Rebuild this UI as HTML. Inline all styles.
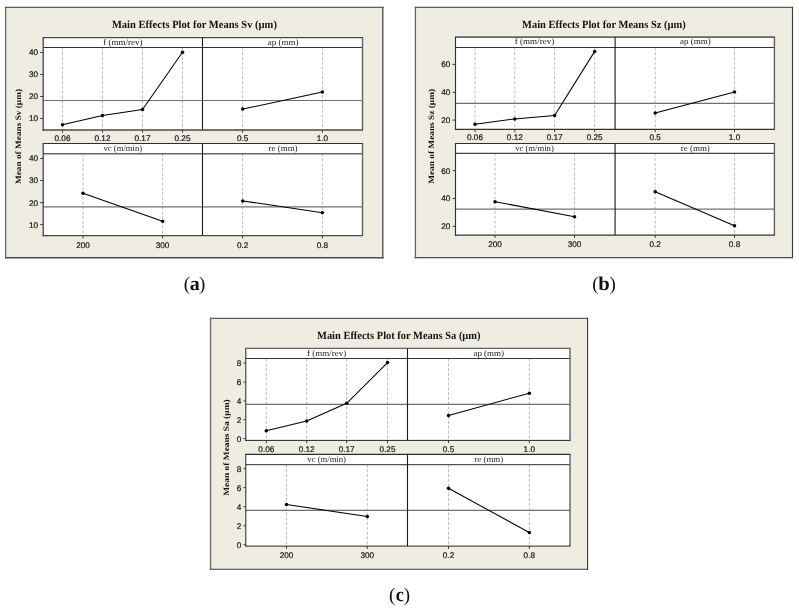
<!DOCTYPE html>
<html><head><meta charset="utf-8"><title>Main Effects Plots</title>
<style>
html,body{margin:0;padding:0;background:#fff;overflow:hidden}
svg{display:block}
text{text-rendering:geometricPrecision}
.tk{font-family:"Liberation Sans",sans-serif;font-size:8.2px;fill:#141414;stroke:#141414;stroke-width:0.2px}
.hd{font-family:"Liberation Serif",serif;font-size:8.7px;fill:#222}
.tt{font-family:"Liberation Serif",serif;font-weight:bold;font-size:11px;fill:#111}
.yl{font-family:"Liberation Serif",serif;font-weight:bold;font-size:8.2px;fill:#111}
.cp{font-family:"Liberation Serif",serif;fill:#111}
.pr{font-size:19px}
.cb{font-size:19.6px;font-weight:bold}
</style></head>
<body>
<svg width="799" height="609" viewBox="0 0 799 609">
<rect width="799" height="609" fill="#fff"/>
<rect x="5.6" y="7.45" width="377.2" height="250.25" fill="#efece2"/>
<line x1="5.6" y1="6.8" x2="5.6" y2="258.4" stroke="#666" stroke-width="1.3"/>
<line x1="4.95" y1="7.45" x2="383.45" y2="7.45" stroke="#5a5a5a" stroke-width="1.3"/>
<line x1="382.8" y1="6.8" x2="382.8" y2="258.4" stroke="#484848" stroke-width="1.3"/>
<line x1="4.95" y1="257.7" x2="383.45" y2="257.7" stroke="#4c4c4c" stroke-width="1.4"/>
<rect x="43.2" y="37.7" width="319.3" height="92.3" fill="#fff"/>
<line x1="62.5" y1="47.5" x2="62.5" y2="130" stroke="#bdbdbd" stroke-dasharray="3 1.8"/>
<line x1="62.5" y1="130" x2="62.5" y2="132.8" stroke="#3c3c3c"/>
<text class="tk" x="62.5" y="140.5" text-anchor="middle">0.06</text>
<line x1="102.5" y1="47.5" x2="102.5" y2="130" stroke="#bdbdbd" stroke-dasharray="3 1.8"/>
<line x1="102.5" y1="130" x2="102.5" y2="132.8" stroke="#3c3c3c"/>
<text class="tk" x="102.5" y="140.5" text-anchor="middle">0.12</text>
<line x1="142.5" y1="47.5" x2="142.5" y2="130" stroke="#bdbdbd" stroke-dasharray="3 1.8"/>
<line x1="142.5" y1="130" x2="142.5" y2="132.8" stroke="#3c3c3c"/>
<text class="tk" x="142.5" y="140.5" text-anchor="middle">0.17</text>
<line x1="182.5" y1="47.5" x2="182.5" y2="130" stroke="#bdbdbd" stroke-dasharray="3 1.8"/>
<line x1="182.5" y1="130" x2="182.5" y2="132.8" stroke="#3c3c3c"/>
<text class="tk" x="182.5" y="140.5" text-anchor="middle">0.25</text>
<text class="hd" x="122.85" y="44.9" text-anchor="middle" textLength="39.4" lengthAdjust="spacingAndGlyphs">f (mm/rev)</text>
<line x1="242.6" y1="47.5" x2="242.6" y2="130" stroke="#bdbdbd" stroke-dasharray="3 1.8"/>
<line x1="242.6" y1="130" x2="242.6" y2="132.8" stroke="#3c3c3c"/>
<text class="tk" x="242.6" y="140.5" text-anchor="middle">0.5</text>
<line x1="322.4" y1="47.5" x2="322.4" y2="130" stroke="#bdbdbd" stroke-dasharray="3 1.8"/>
<line x1="322.4" y1="130" x2="322.4" y2="132.8" stroke="#3c3c3c"/>
<text class="tk" x="322.4" y="140.5" text-anchor="middle">1.0</text>
<text class="hd" x="283.1" y="44.9" text-anchor="middle" textLength="30.7" lengthAdjust="spacingAndGlyphs">ap (mm)</text>
<line x1="43.2" y1="100.5" x2="362.5" y2="100.5" stroke="#707070" stroke-width="1.2"/>
<line x1="43.2" y1="47.5" x2="362.5" y2="47.5" stroke="#333" stroke-width="1.1"/>
<line x1="42.6" y1="37.7" x2="363.2" y2="37.7" stroke="#4a4a4a" stroke-width="1.25"/>
<line x1="362.5" y1="37.7" x2="362.5" y2="130" stroke="#626262" stroke-width="1.4"/>
<line x1="202.5" y1="37.7" x2="202.5" y2="130" stroke="#1a1a1a" stroke-width="1.1"/>
<line x1="43.2" y1="37.7" x2="43.2" y2="130.68" stroke="#4a4a4a" stroke-width="1.35"/>
<line x1="42.53" y1="130" x2="363" y2="130" stroke="#4a4a4a" stroke-width="1.35"/>
<line x1="40.2" y1="52.5" x2="43.2" y2="52.5" stroke="#3c3c3c"/>
<text class="tk" x="38.1" y="55.4" text-anchor="end">40</text>
<line x1="40.2" y1="74.5" x2="43.2" y2="74.5" stroke="#3c3c3c"/>
<text class="tk" x="38.1" y="77.4" text-anchor="end">30</text>
<line x1="40.2" y1="96.5" x2="43.2" y2="96.5" stroke="#3c3c3c"/>
<text class="tk" x="38.1" y="99.4" text-anchor="end">20</text>
<line x1="40.2" y1="118.5" x2="43.2" y2="118.5" stroke="#3c3c3c"/>
<text class="tk" x="38.1" y="121.4" text-anchor="end">10</text>
<rect x="43.2" y="143.5" width="319.3" height="92.1" fill="#fff"/>
<line x1="83" y1="153.7" x2="83" y2="235.6" stroke="#bdbdbd" stroke-dasharray="3 1.8"/>
<line x1="83" y1="235.6" x2="83" y2="238.4" stroke="#3c3c3c"/>
<text class="tk" x="83" y="247.7" text-anchor="middle">200</text>
<line x1="162.6" y1="153.7" x2="162.6" y2="235.6" stroke="#bdbdbd" stroke-dasharray="3 1.8"/>
<line x1="162.6" y1="235.6" x2="162.6" y2="238.4" stroke="#3c3c3c"/>
<text class="tk" x="162.6" y="247.7" text-anchor="middle">300</text>
<text class="hd" x="122.85" y="150.7" text-anchor="middle" textLength="38.6" lengthAdjust="spacingAndGlyphs">vc (m/min)</text>
<line x1="242.6" y1="153.7" x2="242.6" y2="235.6" stroke="#bdbdbd" stroke-dasharray="3 1.8"/>
<line x1="242.6" y1="235.6" x2="242.6" y2="238.4" stroke="#3c3c3c"/>
<text class="tk" x="242.6" y="247.7" text-anchor="middle">0.2</text>
<line x1="322.4" y1="153.7" x2="322.4" y2="235.6" stroke="#bdbdbd" stroke-dasharray="3 1.8"/>
<line x1="322.4" y1="235.6" x2="322.4" y2="238.4" stroke="#3c3c3c"/>
<text class="tk" x="322.4" y="247.7" text-anchor="middle">0.8</text>
<text class="hd" x="283.1" y="150.7" text-anchor="middle" textLength="29" lengthAdjust="spacingAndGlyphs">re (mm)</text>
<line x1="43.2" y1="206.8" x2="362.5" y2="206.8" stroke="#707070" stroke-width="1.3"/>
<line x1="43.2" y1="153.7" x2="362.5" y2="153.7" stroke="#666" stroke-width="1.5"/>
<line x1="42.6" y1="143.5" x2="363.2" y2="143.5" stroke="#2e2e2e" stroke-width="1.1"/>
<line x1="362.5" y1="143.5" x2="362.5" y2="235.6" stroke="#626262" stroke-width="1.4"/>
<line x1="202.5" y1="143.5" x2="202.5" y2="235.6" stroke="#1a1a1a" stroke-width="1.1"/>
<line x1="43.2" y1="143.5" x2="43.2" y2="236.28" stroke="#4a4a4a" stroke-width="1.35"/>
<line x1="42.53" y1="235.6" x2="363" y2="235.6" stroke="#4a4a4a" stroke-width="1.35"/>
<line x1="40.2" y1="158.5" x2="43.2" y2="158.5" stroke="#3c3c3c"/>
<text class="tk" x="38.1" y="161.4" text-anchor="end">40</text>
<line x1="40.2" y1="180.5" x2="43.2" y2="180.5" stroke="#3c3c3c"/>
<text class="tk" x="38.1" y="183.4" text-anchor="end">30</text>
<line x1="40.2" y1="202.6" x2="43.2" y2="202.6" stroke="#3c3c3c"/>
<text class="tk" x="38.1" y="205.5" text-anchor="end">20</text>
<line x1="40.2" y1="224.6" x2="43.2" y2="224.6" stroke="#3c3c3c"/>
<text class="tk" x="38.1" y="227.5" text-anchor="end">10</text>
<polyline points="62.5,124.8 102.5,115.5 142.5,109.5 182.5,52.2" fill="none" stroke="#000" stroke-width="1.05" stroke-linejoin="round"/>
<circle cx="62.5" cy="124.8" r="1.75" fill="#000"/>
<circle cx="102.5" cy="115.5" r="1.75" fill="#000"/>
<circle cx="142.5" cy="109.5" r="1.75" fill="#000"/>
<circle cx="182.5" cy="52.2" r="1.75" fill="#000"/>
<polyline points="242.7,109.1 322.4,92.1" fill="none" stroke="#000" stroke-width="1.05" stroke-linejoin="round"/>
<circle cx="242.7" cy="109.1" r="1.75" fill="#000"/>
<circle cx="322.4" cy="92.1" r="1.75" fill="#000"/>
<polyline points="83,193.2 162.6,221.3" fill="none" stroke="#000" stroke-width="1.05" stroke-linejoin="round"/>
<circle cx="83" cy="193.2" r="1.75" fill="#000"/>
<circle cx="162.6" cy="221.3" r="1.75" fill="#000"/>
<polyline points="242.7,200.9 322.4,212.7" fill="none" stroke="#000" stroke-width="1.05" stroke-linejoin="round"/>
<circle cx="242.7" cy="200.9" r="1.75" fill="#000"/>
<circle cx="322.4" cy="212.7" r="1.75" fill="#000"/>
<text class="tt" x="194.4" y="28" text-anchor="middle" textLength="165" lengthAdjust="spacingAndGlyphs">Main Effects Plot for Means Sv (µm)</text>
<text class="yl" transform="translate(21.2,136.5) rotate(-90)" text-anchor="middle" textLength="95" lengthAdjust="spacingAndGlyphs">Mean of Means Sv (µm)</text>
<text class="cp pr" x="183.8" y="290.2">(</text>
<text class="cp cb" x="194.75" y="289.6" text-anchor="middle" textLength="10.0" lengthAdjust="spacingAndGlyphs">a</text>
<text class="cp pr" x="205.4" y="290.2" text-anchor="end">)</text>
<rect x="415.4" y="7.4" width="377.1" height="250.2" fill="#efece2"/>
<line x1="415.4" y1="6.75" x2="415.4" y2="258.28" stroke="#646464" stroke-width="1.3"/>
<line x1="414.75" y1="7.4" x2="793.05" y2="7.4" stroke="#5c5c5c" stroke-width="1.3"/>
<line x1="792.5" y1="6.75" x2="792.5" y2="258.28" stroke="#3a3a3a" stroke-width="1.1"/>
<line x1="414.75" y1="257.6" x2="793.05" y2="257.6" stroke="#505050" stroke-width="1.35"/>
<rect x="455.5" y="37.1" width="318.9" height="92.3" fill="#fff"/>
<line x1="475" y1="47.5" x2="475" y2="129.4" stroke="#bdbdbd" stroke-dasharray="3 1.8"/>
<line x1="475" y1="129.4" x2="475" y2="132.2" stroke="#3c3c3c"/>
<text class="tk" x="475" y="140.3" text-anchor="middle">0.06</text>
<line x1="514.8" y1="47.5" x2="514.8" y2="129.4" stroke="#bdbdbd" stroke-dasharray="3 1.8"/>
<line x1="514.8" y1="129.4" x2="514.8" y2="132.2" stroke="#3c3c3c"/>
<text class="tk" x="514.8" y="140.3" text-anchor="middle">0.12</text>
<line x1="554.6" y1="47.5" x2="554.6" y2="129.4" stroke="#bdbdbd" stroke-dasharray="3 1.8"/>
<line x1="554.6" y1="129.4" x2="554.6" y2="132.2" stroke="#3c3c3c"/>
<text class="tk" x="554.6" y="140.3" text-anchor="middle">0.17</text>
<line x1="594.7" y1="47.5" x2="594.7" y2="129.4" stroke="#bdbdbd" stroke-dasharray="3 1.8"/>
<line x1="594.7" y1="129.4" x2="594.7" y2="132.2" stroke="#3c3c3c"/>
<text class="tk" x="594.7" y="140.3" text-anchor="middle">0.25</text>
<text class="hd" x="534.5" y="44.3" text-anchor="middle" textLength="39.4" lengthAdjust="spacingAndGlyphs">f (mm/rev)</text>
<line x1="655.2" y1="47.5" x2="655.2" y2="129.4" stroke="#bdbdbd" stroke-dasharray="3 1.8"/>
<line x1="655.2" y1="129.4" x2="655.2" y2="132.2" stroke="#3c3c3c"/>
<text class="tk" x="655.2" y="140.3" text-anchor="middle">0.5</text>
<line x1="734.5" y1="47.5" x2="734.5" y2="129.4" stroke="#bdbdbd" stroke-dasharray="3 1.8"/>
<line x1="734.5" y1="129.4" x2="734.5" y2="132.2" stroke="#3c3c3c"/>
<text class="tk" x="734.5" y="140.3" text-anchor="middle">1.0</text>
<text class="hd" x="695.35" y="44.3" text-anchor="middle" textLength="30.7" lengthAdjust="spacingAndGlyphs">ap (mm)</text>
<line x1="455.5" y1="103.4" x2="774.4" y2="103.4" stroke="#707070" stroke-width="1.2"/>
<line x1="455.5" y1="47.5" x2="774.4" y2="47.5" stroke="#333" stroke-width="1.1"/>
<line x1="454.9" y1="37.1" x2="775.1" y2="37.1" stroke="#666" stroke-width="1.6"/>
<line x1="774.4" y1="37.1" x2="774.4" y2="129.4" stroke="#626262" stroke-width="1.4"/>
<line x1="615.1" y1="37.1" x2="615.1" y2="129.4" stroke="#1a1a1a" stroke-width="1.1"/>
<line x1="455.5" y1="37.1" x2="455.5" y2="129.97" stroke="#333" stroke-width="1.15"/>
<line x1="454.93" y1="129.4" x2="774.9" y2="129.4" stroke="#333" stroke-width="1.15"/>
<line x1="452.5" y1="64.4" x2="455.5" y2="64.4" stroke="#3c3c3c"/>
<text class="tk" x="450.4" y="67.3" text-anchor="end">60</text>
<line x1="452.5" y1="92.3" x2="455.5" y2="92.3" stroke="#3c3c3c"/>
<text class="tk" x="450.4" y="95.2" text-anchor="end">40</text>
<line x1="452.5" y1="120.1" x2="455.5" y2="120.1" stroke="#3c3c3c"/>
<text class="tk" x="450.4" y="123" text-anchor="end">20</text>
<rect x="455.5" y="143.5" width="318.9" height="91.6" fill="#fff"/>
<line x1="495" y1="153.3" x2="495" y2="235.1" stroke="#bdbdbd" stroke-dasharray="3 1.8"/>
<line x1="495" y1="235.1" x2="495" y2="237.9" stroke="#3c3c3c"/>
<text class="tk" x="495" y="246.9" text-anchor="middle">200</text>
<line x1="574.5" y1="153.3" x2="574.5" y2="235.1" stroke="#bdbdbd" stroke-dasharray="3 1.8"/>
<line x1="574.5" y1="235.1" x2="574.5" y2="237.9" stroke="#3c3c3c"/>
<text class="tk" x="574.5" y="246.9" text-anchor="middle">300</text>
<text class="hd" x="534.5" y="150.7" text-anchor="middle" textLength="38.6" lengthAdjust="spacingAndGlyphs">vc (m/min)</text>
<line x1="655.2" y1="153.3" x2="655.2" y2="235.1" stroke="#bdbdbd" stroke-dasharray="3 1.8"/>
<line x1="655.2" y1="235.1" x2="655.2" y2="237.9" stroke="#3c3c3c"/>
<text class="tk" x="655.2" y="246.9" text-anchor="middle">0.2</text>
<line x1="734.5" y1="153.3" x2="734.5" y2="235.1" stroke="#bdbdbd" stroke-dasharray="3 1.8"/>
<line x1="734.5" y1="235.1" x2="734.5" y2="237.9" stroke="#3c3c3c"/>
<text class="tk" x="734.5" y="246.9" text-anchor="middle">0.8</text>
<text class="hd" x="695.35" y="150.7" text-anchor="middle" textLength="29" lengthAdjust="spacingAndGlyphs">re (mm)</text>
<line x1="455.5" y1="209.1" x2="774.4" y2="209.1" stroke="#707070" stroke-width="1.3"/>
<line x1="455.5" y1="153.3" x2="774.4" y2="153.3" stroke="#444" stroke-width="1.3"/>
<line x1="454.9" y1="143.5" x2="775.1" y2="143.5" stroke="#2e2e2e" stroke-width="1.1"/>
<line x1="774.4" y1="143.5" x2="774.4" y2="235.1" stroke="#626262" stroke-width="1.4"/>
<line x1="615.1" y1="143.5" x2="615.1" y2="235.1" stroke="#1a1a1a" stroke-width="1.1"/>
<line x1="455.5" y1="143.5" x2="455.5" y2="235.67" stroke="#333" stroke-width="1.15"/>
<line x1="454.93" y1="235.1" x2="774.9" y2="235.1" stroke="#333" stroke-width="1.15"/>
<line x1="452.5" y1="170.6" x2="455.5" y2="170.6" stroke="#3c3c3c"/>
<text class="tk" x="450.4" y="173.5" text-anchor="end">60</text>
<line x1="452.5" y1="198.5" x2="455.5" y2="198.5" stroke="#3c3c3c"/>
<text class="tk" x="450.4" y="201.4" text-anchor="end">40</text>
<line x1="452.5" y1="226.3" x2="455.5" y2="226.3" stroke="#3c3c3c"/>
<text class="tk" x="450.4" y="229.2" text-anchor="end">20</text>
<polyline points="475,124.3 514.8,118.9 554.6,115.5 594.7,51.4" fill="none" stroke="#000" stroke-width="1.05" stroke-linejoin="round"/>
<circle cx="475" cy="124.3" r="1.75" fill="#000"/>
<circle cx="514.8" cy="118.9" r="1.75" fill="#000"/>
<circle cx="554.6" cy="115.5" r="1.75" fill="#000"/>
<circle cx="594.7" cy="51.4" r="1.75" fill="#000"/>
<polyline points="655.2,113.1 734.5,92.1" fill="none" stroke="#000" stroke-width="1.05" stroke-linejoin="round"/>
<circle cx="655.2" cy="113.1" r="1.75" fill="#000"/>
<circle cx="734.5" cy="92.1" r="1.75" fill="#000"/>
<polyline points="495,201.7 574.5,216.7" fill="none" stroke="#000" stroke-width="1.05" stroke-linejoin="round"/>
<circle cx="495" cy="201.7" r="1.75" fill="#000"/>
<circle cx="574.5" cy="216.7" r="1.75" fill="#000"/>
<polyline points="655.2,191.7 734.5,225.7" fill="none" stroke="#000" stroke-width="1.05" stroke-linejoin="round"/>
<circle cx="655.2" cy="191.7" r="1.75" fill="#000"/>
<circle cx="734.5" cy="225.7" r="1.75" fill="#000"/>
<text class="tt" x="603.9" y="28" text-anchor="middle" textLength="163.8" lengthAdjust="spacingAndGlyphs">Main Effects Plot for Means Sz (µm)</text>
<text class="yl" transform="translate(434.1,136.4) rotate(-90)" text-anchor="middle" textLength="94.8" lengthAdjust="spacingAndGlyphs">Mean of Means Sz (µm)</text>
<text class="cp pr" x="592.2" y="289.6">(</text>
<text class="cp cb" x="604.1" y="290" text-anchor="middle" textLength="11.5" lengthAdjust="spacingAndGlyphs">b</text>
<text class="cp pr" x="615.9" y="289.6" text-anchor="end">)</text>
<rect x="210.55" y="318.4" width="377" height="250.8" fill="#efece2"/>
<line x1="210.55" y1="317.75" x2="210.55" y2="569.75" stroke="#646464" stroke-width="1.3"/>
<line x1="209.9" y1="318.4" x2="588.1" y2="318.4" stroke="#5e5e5e" stroke-width="1.3"/>
<line x1="587.55" y1="317.75" x2="587.55" y2="569.75" stroke="#3a3a3a" stroke-width="1.1"/>
<line x1="209.9" y1="569.2" x2="588.1" y2="569.2" stroke="#3a3a3a" stroke-width="1.1"/>
<rect x="245.8" y="348.4" width="324.2" height="92" fill="#fff"/>
<line x1="266.3" y1="358.5" x2="266.3" y2="440.4" stroke="#bdbdbd" stroke-dasharray="3 1.8"/>
<line x1="266.3" y1="440.4" x2="266.3" y2="443.2" stroke="#3c3c3c"/>
<text class="tk" x="266.3" y="451.8" text-anchor="middle">0.06</text>
<line x1="306.7" y1="358.5" x2="306.7" y2="440.4" stroke="#bdbdbd" stroke-dasharray="3 1.8"/>
<line x1="306.7" y1="440.4" x2="306.7" y2="443.2" stroke="#3c3c3c"/>
<text class="tk" x="306.7" y="451.8" text-anchor="middle">0.12</text>
<line x1="346.7" y1="358.5" x2="346.7" y2="440.4" stroke="#bdbdbd" stroke-dasharray="3 1.8"/>
<line x1="346.7" y1="440.4" x2="346.7" y2="443.2" stroke="#3c3c3c"/>
<text class="tk" x="346.7" y="451.8" text-anchor="middle">0.17</text>
<line x1="387.5" y1="358.5" x2="387.5" y2="440.4" stroke="#bdbdbd" stroke-dasharray="3 1.8"/>
<line x1="387.5" y1="440.4" x2="387.5" y2="443.2" stroke="#3c3c3c"/>
<text class="tk" x="387.5" y="451.8" text-anchor="middle">0.25</text>
<text class="hd" x="326.65" y="355.6" text-anchor="middle" textLength="39.4" lengthAdjust="spacingAndGlyphs">f (mm/rev)</text>
<line x1="448.5" y1="358.5" x2="448.5" y2="440.4" stroke="#bdbdbd" stroke-dasharray="3 1.8"/>
<line x1="448.5" y1="440.4" x2="448.5" y2="443.2" stroke="#3c3c3c"/>
<text class="tk" x="448.5" y="451.8" text-anchor="middle">0.5</text>
<line x1="529.3" y1="358.5" x2="529.3" y2="440.4" stroke="#bdbdbd" stroke-dasharray="3 1.8"/>
<line x1="529.3" y1="440.4" x2="529.3" y2="443.2" stroke="#3c3c3c"/>
<text class="tk" x="529.3" y="451.8" text-anchor="middle">1.0</text>
<text class="hd" x="488.75" y="355.6" text-anchor="middle" textLength="30.7" lengthAdjust="spacingAndGlyphs">ap (mm)</text>
<line x1="245.8" y1="404.4" x2="570" y2="404.4" stroke="#707070" stroke-width="1.2"/>
<line x1="245.8" y1="358.5" x2="570" y2="358.5" stroke="#333" stroke-width="1.1"/>
<line x1="245.2" y1="348.4" x2="570.7" y2="348.4" stroke="#626262" stroke-width="1.4"/>
<line x1="570" y1="348.4" x2="570" y2="440.4" stroke="#626262" stroke-width="1.4"/>
<line x1="407.5" y1="348.4" x2="407.5" y2="440.4" stroke="#1a1a1a" stroke-width="1.1"/>
<line x1="245.8" y1="348.4" x2="245.8" y2="440.9" stroke="#262626" stroke-width="1.0"/>
<line x1="245.3" y1="440.4" x2="570.5" y2="440.4" stroke="#262626" stroke-width="1.0"/>
<line x1="243.4" y1="363.1" x2="245.8" y2="363.1" stroke="#3c3c3c"/>
<text class="tk" x="241.3" y="366" text-anchor="end">8</text>
<line x1="243.4" y1="382.1" x2="245.8" y2="382.1" stroke="#3c3c3c"/>
<text class="tk" x="241.3" y="385" text-anchor="end">6</text>
<line x1="243.4" y1="401" x2="245.8" y2="401" stroke="#3c3c3c"/>
<text class="tk" x="241.3" y="403.9" text-anchor="end">4</text>
<line x1="243.4" y1="419.8" x2="245.8" y2="419.8" stroke="#3c3c3c"/>
<text class="tk" x="241.3" y="422.7" text-anchor="end">2</text>
<line x1="243.4" y1="438.6" x2="245.8" y2="438.6" stroke="#3c3c3c"/>
<text class="tk" x="241.3" y="441.5" text-anchor="end">0</text>
<rect x="245.8" y="454.4" width="324.2" height="91.7" fill="#fff"/>
<line x1="286.5" y1="464.5" x2="286.5" y2="546.1" stroke="#bdbdbd" stroke-dasharray="3 1.8"/>
<line x1="286.5" y1="546.1" x2="286.5" y2="548.9" stroke="#3c3c3c"/>
<text class="tk" x="286.5" y="557.9" text-anchor="middle">200</text>
<line x1="367.3" y1="464.5" x2="367.3" y2="546.1" stroke="#bdbdbd" stroke-dasharray="3 1.8"/>
<line x1="367.3" y1="546.1" x2="367.3" y2="548.9" stroke="#3c3c3c"/>
<text class="tk" x="367.3" y="557.9" text-anchor="middle">300</text>
<text class="hd" x="326.65" y="461.6" text-anchor="middle" textLength="38.6" lengthAdjust="spacingAndGlyphs">vc (m/min)</text>
<line x1="448.5" y1="464.5" x2="448.5" y2="546.1" stroke="#bdbdbd" stroke-dasharray="3 1.8"/>
<line x1="448.5" y1="546.1" x2="448.5" y2="548.9" stroke="#3c3c3c"/>
<text class="tk" x="448.5" y="557.9" text-anchor="middle">0.2</text>
<line x1="529.3" y1="464.5" x2="529.3" y2="546.1" stroke="#bdbdbd" stroke-dasharray="3 1.8"/>
<line x1="529.3" y1="546.1" x2="529.3" y2="548.9" stroke="#3c3c3c"/>
<text class="tk" x="529.3" y="557.9" text-anchor="middle">0.8</text>
<text class="hd" x="488.75" y="461.6" text-anchor="middle" textLength="29" lengthAdjust="spacingAndGlyphs">re (mm)</text>
<line x1="245.8" y1="510.4" x2="570" y2="510.4" stroke="#707070" stroke-width="1.2"/>
<line x1="245.8" y1="464.5" x2="570" y2="464.5" stroke="#555" stroke-width="1.25"/>
<line x1="245.2" y1="454.4" x2="570.7" y2="454.4" stroke="#2e2e2e" stroke-width="1.15"/>
<line x1="570" y1="454.4" x2="570" y2="546.1" stroke="#626262" stroke-width="1.4"/>
<line x1="407.5" y1="454.4" x2="407.5" y2="546.1" stroke="#1a1a1a" stroke-width="1.1"/>
<line x1="245.8" y1="454.4" x2="245.8" y2="546.6" stroke="#262626" stroke-width="1.0"/>
<line x1="245.3" y1="546.1" x2="570.5" y2="546.1" stroke="#262626" stroke-width="1.0"/>
<line x1="243.4" y1="468.6" x2="245.8" y2="468.6" stroke="#3c3c3c"/>
<text class="tk" x="241.3" y="471.5" text-anchor="end">8</text>
<line x1="243.4" y1="487.6" x2="245.8" y2="487.6" stroke="#3c3c3c"/>
<text class="tk" x="241.3" y="490.5" text-anchor="end">6</text>
<line x1="243.4" y1="506.7" x2="245.8" y2="506.7" stroke="#3c3c3c"/>
<text class="tk" x="241.3" y="509.6" text-anchor="end">4</text>
<line x1="243.4" y1="525.7" x2="245.8" y2="525.7" stroke="#3c3c3c"/>
<text class="tk" x="241.3" y="528.6" text-anchor="end">2</text>
<line x1="243.4" y1="544.7" x2="245.8" y2="544.7" stroke="#3c3c3c"/>
<text class="tk" x="241.3" y="547.6" text-anchor="end">0</text>
<polyline points="266.3,430.8 306.7,420.9 346.7,403.3 387.5,362.6" fill="none" stroke="#000" stroke-width="1.05" stroke-linejoin="round"/>
<circle cx="266.3" cy="430.8" r="1.75" fill="#000"/>
<circle cx="306.7" cy="420.9" r="1.75" fill="#000"/>
<circle cx="346.7" cy="403.3" r="1.75" fill="#000"/>
<circle cx="387.5" cy="362.6" r="1.75" fill="#000"/>
<polyline points="448.5,415.5 529.3,393.2" fill="none" stroke="#000" stroke-width="1.05" stroke-linejoin="round"/>
<circle cx="448.5" cy="415.5" r="1.75" fill="#000"/>
<circle cx="529.3" cy="393.2" r="1.75" fill="#000"/>
<polyline points="286.5,504.6 367.3,516.4" fill="none" stroke="#000" stroke-width="1.05" stroke-linejoin="round"/>
<circle cx="286.5" cy="504.6" r="1.75" fill="#000"/>
<circle cx="367.3" cy="516.4" r="1.75" fill="#000"/>
<polyline points="448.5,488.3 529.3,532.5" fill="none" stroke="#000" stroke-width="1.05" stroke-linejoin="round"/>
<circle cx="448.5" cy="488.3" r="1.75" fill="#000"/>
<circle cx="529.3" cy="532.5" r="1.75" fill="#000"/>
<text class="tt" x="398.8" y="338.8" text-anchor="middle" textLength="163.5" lengthAdjust="spacingAndGlyphs">Main Effects Plot for Means Sa (µm)</text>
<text class="yl" transform="translate(229.3,447.6) rotate(-90)" text-anchor="middle" textLength="96.5" lengthAdjust="spacingAndGlyphs">Mean of Means Sa (µm)</text>
<text class="cp pr" x="389.1" y="601.3">(</text>
<text class="cp cb" x="399.7" y="601.2" text-anchor="middle" textLength="8.1" lengthAdjust="spacingAndGlyphs">c</text>
<text class="cp pr" x="410" y="601.3" text-anchor="end">)</text>
</svg>
</body></html>
